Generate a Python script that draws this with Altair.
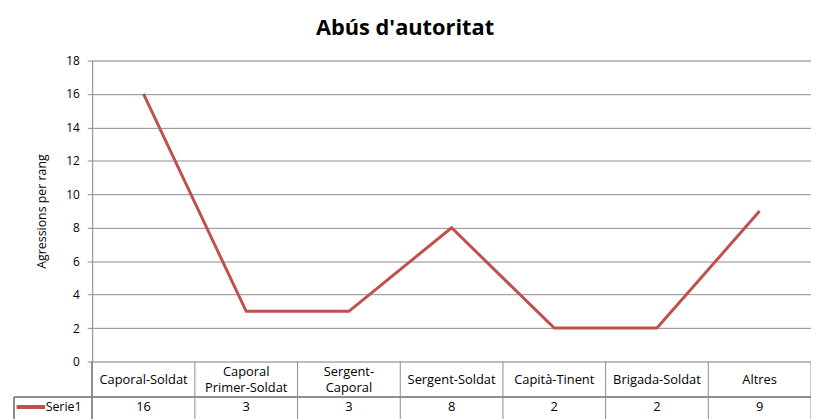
import altair as alt
import pandas as pd

# ---- data ----
categories = ["Caporal-Soldat", "Caporal\nPrimer-Soldat", "Sergent-\nCaporal",
              "Sergent-Soldat", "Capità-Tinent", "Brigada-Soldat", "Altres"]
values = [16, 3, 3, 8, 2, 2, 9]
series_name = "Serie1"
y_ticks = list(range(0, 19, 2))

W, H = 726, 304
FONT = "Open Sans"
GRID = "#8c8c8c"
RED = "#C0504D"

n = len(categories)
df = pd.DataFrame({
    "cat": categories,
    "value": values,
    "pos": [i + 0.5 for i in range(n)],
    "two": ["\n" in c for c in categories],
})
bounds = pd.DataFrame({"b": list(range(1, n + 1))})

xs = alt.Scale(domain=[0, n], nice=False, zero=False)
ys = alt.Scale(domain=[0, 18], nice=False)

base = alt.Chart(df)

line = base.mark_line(color=RED, strokeWidth=3).encode(
    x=alt.X("pos:Q", scale=xs, axis=None),
    y=alt.Y("value:Q", scale=ys,
            axis=alt.Axis(values=y_ticks, title="Agressions per rang",
                          grid=True, gridColor=GRID, gridWidth=1,
                          domainColor=GRID, tickColor=GRID, tickSize=5,
                          labelPadding=8, labelFont=FONT, labelFontSize=12,
                          labelColor="black", titleFont=FONT, titleFontSize=12.5,
                          titleFontWeight="normal", titleColor="black",
                          titlePadding=17)),
)

ROW = H + 36

# table column boundaries
vrules = alt.Chart(bounds).mark_rule(color=GRID, strokeWidth=1).encode(
    x=alt.X("b:Q", scale=xs),
    y=alt.value(H), y2=alt.value(H + 60),
)
left_rule = alt.Chart(bounds).mark_rule(color=GRID, strokeWidth=1).encode(
    x=alt.value(0), y=alt.value(H), y2=alt.value(H + 60),
)
row_rule = alt.Chart(bounds).mark_rule(color=GRID, strokeWidth=1).encode(
    x=alt.value(-79), x2=alt.value(W), y=alt.value(ROW),
)
legend_left = alt.Chart(bounds).mark_rule(color=GRID, strokeWidth=1).encode(
    x=alt.value(-79), y=alt.value(ROW), y2=alt.value(H + 60),
)
legend_line = alt.Chart(bounds).mark_rule(color=RED, strokeWidth=3).encode(
    x=alt.value(-76), x2=alt.value(-48), y=alt.value(ROW + 10),
)
legend_text = alt.Chart(pd.DataFrame({"s": [series_name]})).mark_text(
    font=FONT, fontSize=12.5, align="left", baseline="middle", color="black"
).encode(x=alt.value(-47), y=alt.value(ROW + 10), text="s:N")

header1 = base.transform_filter("!datum.two").mark_text(
    font=FONT, fontSize=13, align="center", baseline="middle", color="black"
).encode(x=alt.X("pos:Q", scale=xs), y=alt.value(H + 19), text="cat:N")
header2 = base.transform_filter("datum.two").mark_text(
    font=FONT, fontSize=13, align="center", baseline="middle", color="black",
    lineBreak="\n", lineHeight=16
).encode(x=alt.X("pos:Q", scale=xs), y=alt.value(H + 11), text="cat:N")
vals = base.mark_text(font=FONT, fontSize=13, align="center", baseline="middle",
                      color="black").encode(
    x=alt.X("pos:Q", scale=xs), y=alt.value(ROW + 10), text="value:Q")

chart = alt.layer(line, vrules, left_rule, row_rule, legend_left, legend_line,
                  legend_text, header1, header2, vals).properties(
    width=W, height=H,
    title=alt.TitleParams("Abús d'autoritat", font=FONT, fontSize=22,
                          fontWeight="bold", color="black", anchor="middle",
                          dx=-47, offset=15),
    autosize=alt.AutoSizeParams(type="none"),
    padding={"left": 85, "top": 51, "right": 0, "bottom": 56},
).configure_view(stroke=None).configure(background="white")

chart.save("out.html", embed_options={"renderer": "svg", "actions": False})
